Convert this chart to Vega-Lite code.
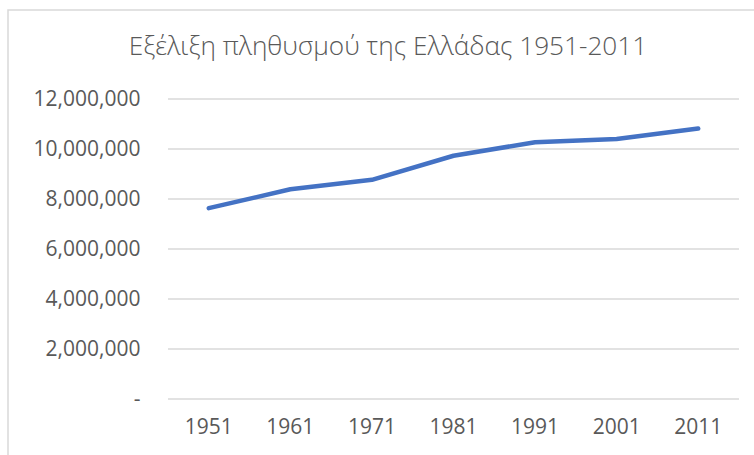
{
  "$schema": "https://vega.github.io/schema/vega-lite/v6.json",
  "width": 760,
  "height": 460,
  "autosize": {"type": "none"},
  "padding": {"left": 8, "top": 10, "right": 0, "bottom": 0},
  "background": "white",
  "config": {
    "view": {"stroke": "#d9d9d9", "strokeWidth": 1.5},
    "font": "Open Sans"
  },
  "title": {
    "text": "Εξέλιξη πληθυσμού της Ελλάδας 1951-2011",
    "frame": "group",
    "anchor": "middle",
    "baseline": "top",
    "offset": -50,
    "fontSize": 26.2,
    "fontWeight": 300,
    "color": "#595959",
    "font": "Open Sans"
  },
  "datasets": {
    "pop": [
      {"year": "1951", "population": 7632801},
      {"year": "1961", "population": 8388553},
      {"year": "1971", "population": 8768641},
      {"year": "1981", "population": 9730000},
      {"year": "1991", "population": 10270000},
      {"year": "2001", "population": 10400000},
      {"year": "2011", "population": 10816286}
    ],
    "grid": [
      {"v": 0, "a": "1951", "b": "2011"},
      {"v": 2000000, "a": "1951", "b": "2011"},
      {"v": 4000000, "a": "1951", "b": "2011"},
      {"v": 6000000, "a": "1951", "b": "2011"},
      {"v": 8000000, "a": "1951", "b": "2011"},
      {"v": 10000000, "a": "1951", "b": "2011"},
      {"v": 12000000, "a": "1951", "b": "2011"}
    ]
  },
  "layer": [
    {
      "data": {"name": "grid"},
      "mark": {"type": "rule", "color": "#d9d9d9", "strokeWidth": 1.3},
      "encoding": {
        "x": {"field": "a", "type": "nominal", "bandPosition": 0},
        "x2": {"field": "b", "bandPosition": 1},
        "y": {"field": "v", "type": "quantitative"}
      }
    },
    {
      "data": {"name": "pop"},
      "mark": {"type": "line", "color": "#4472C4", "strokeWidth": 4.5, "strokeCap": "round", "strokeJoin": "round"},
      "encoding": {
        "x": {"field": "year", "type": "nominal"},
        "y": {"field": "population", "type": "quantitative"}
      }
    }
  ],
  "resolve": {"scale": {"x": "shared", "y": "shared"}},
  "encoding": {
    "x": {
      "field": "year",
      "type": "nominal",
      "sort": null,
      "scale": {"type": "band", "domain": ["1951", "1961", "1971", "1981", "1991", "2001", "2011"], "range": [160, 731], "paddingInner": 0, "paddingOuter": 0},
      "axis": {
        "title": null,
        "domain": false,
        "ticks": false,
        "tickSize": 0,
        "grid": false,
        "labelAngle": 0,
        "offset": -71,
        "labelPadding": 17,
        "labelFontSize": 21,
        "labelColor": "#595959",
        "labelFont": "Open Sans"
      }
    },
    "y": {
      "type": "quantitative",
      "scale": {"domain": [0, 12000000], "range": [389, 89], "nice": false, "zero": true},
      "axis": {
        "title": null,
        "domain": false,
        "ticks": false,
        "tickSize": 0,
        "grid": false,
        "values": [0, 2000000, 4000000, 6000000, 8000000, 10000000, 12000000],
        "offset": -132,
        "labelPadding": 0,
        "labelFontSize": 21,
        "labelColor": "#595959",
        "labelFont": "Open Sans",
        "labelExpr": "datum.value == 0 ? '-\u00a0\u00a0' : format(datum.value, ',')"
      }
    }
  }
}
